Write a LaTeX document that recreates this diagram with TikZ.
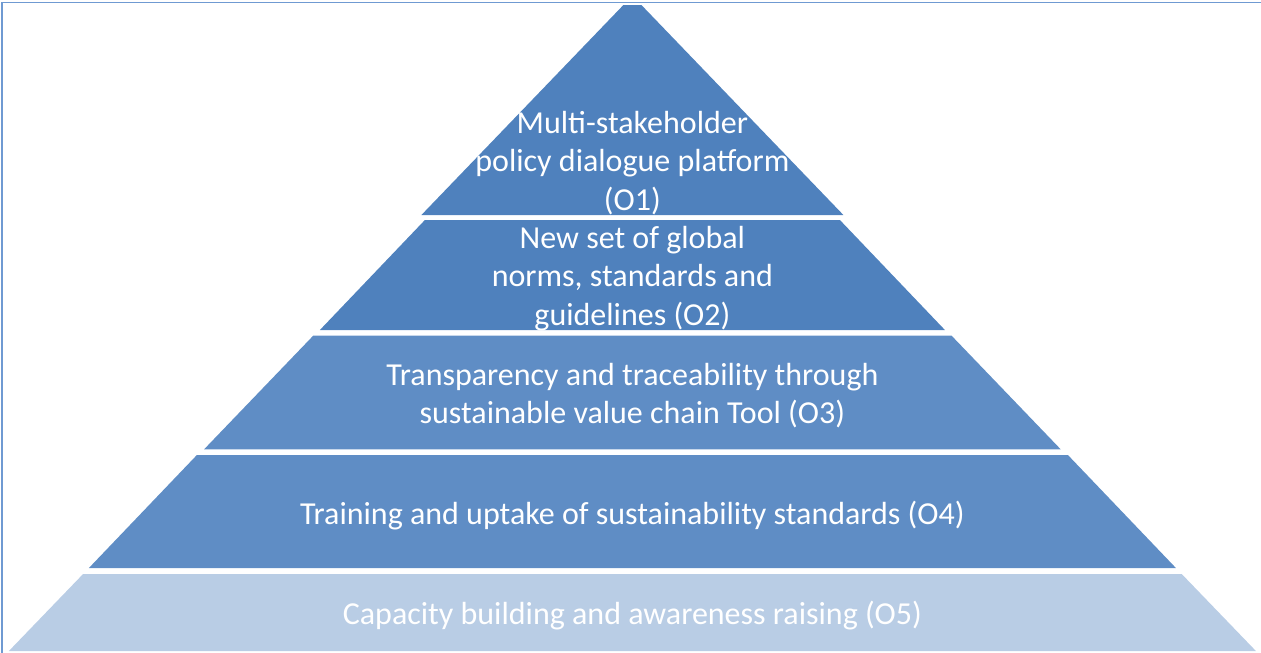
\documentclass[tikz,border=0pt]{standalone}
\usepackage{fontspec}
\setmainfont{Carlito}
\definecolor{tierdark}{HTML}{4F81BD}
\definecolor{tiermid}{HTML}{5F8DC5}
\definecolor{tierlight}{HTML}{B9CDE5}
\definecolor{frameblue}{HTML}{6F9AD2}
\begin{document}
\begin{tikzpicture}[
		x={(1pt,0pt)},
		y={(0pt,-1pt)},
		tierlabel/.style={text=white,align=center,inner sep=0pt,font=\fontsize{32}{38.5}\selectfont},
	]
		\useasboundingbox (0,0) rectangle (1261,653);
		\draw[frameblue,line width=1.5pt] (2,653) -- (2,2.5) -- (1261,2.5);
		
		\foreach \yt/\wt/\yb/\wb/\col in {5/9/215/211/tierdark, 220/207.5/330/312.5/tierdark, 335.5/319/449.3/428.3/tiermid, 455/435.5/568/543.5/tiermid, 574/549.3/651/623.5/tierlight}{
			\fill[\col] ({632.4-\wt},\yt) -- ({632.4+\wt},\yt) -- ({632.4+\wb},\yb) -- ({632.4-\wb},\yb) -- cycle;
		}
		
		\node[tierlabel] (o1) at (632.4,163) {Multi-stakeholder\\ policy dialogue platform\\ (O1)};
		\node[tierlabel] (o2) at (632.4,278.5) {New set of global\\ norms, standards and\\ guidelines (O2)};
		\node[tierlabel] (o3) at (632.4,395.5) {Transparency and traceability through\\ sustainable value chain Tool (O3)};
		\node[tierlabel] (o4) at (632.4,515.5) {Training and uptake of sustainability standards (O4)};
		\node[tierlabel] (o5) at (632.4,615.5) {Capacity building and awareness raising (O5)};
	\end{tikzpicture}
\end{document}
